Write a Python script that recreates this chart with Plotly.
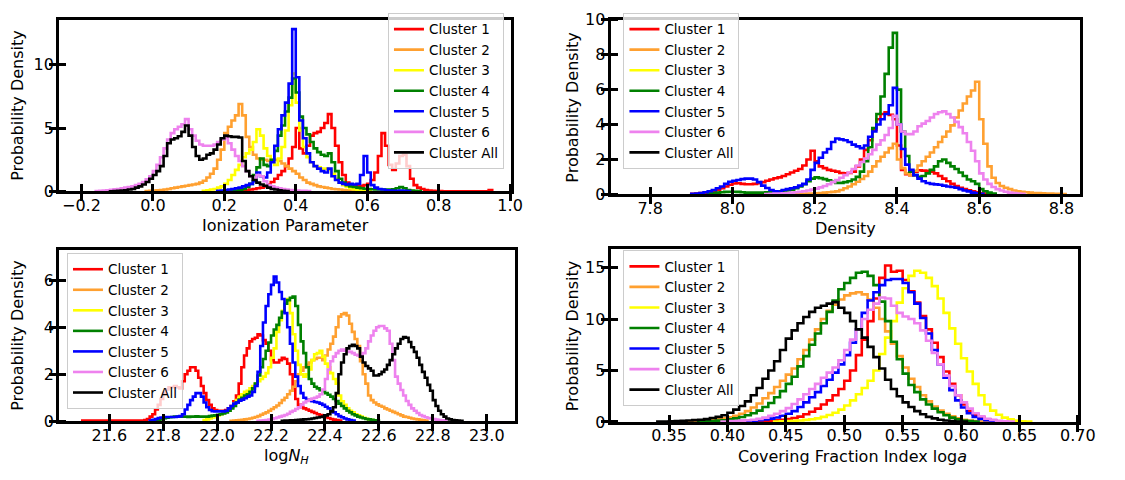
import plotly.graph_objects as go

# ---------------- Panel 1: Ionization Parameter (bin width 0.01) ----------------
ion_w = 0.01
ion_c1_start = 0.20
ion_c1 = [0.03, 0.04, 0.05, 0.06, 0.08, 0.1, 0.12, 0.15, 0.2, 0.25, 0.3, 0.4, 0.55, 0.75, 1.0, 1.3, 1.6, 2.0, 2.6, 3.5,
          5.0, 3.4, 3.0, 3.6, 4.4, 4.6, 4.7, 5.0, 5.4, 6.1, 5.0, 3.6, 2.3, 1.3, 0.7, 0.5, 0.45, 0.4, 0.45, 0.5,
          0.6, 0.9, 1.5, 2.8, 4.6, 3.6, 2.1, 1.7, 2.2, 2.8, 2.9, 2.0, 1.0, 0.5, 0.3, 0.2, 0.12, 0.08, 0.05, 0.04,
          0.03, 0.02, 0.02, 0.02, 0.02, 0.02, 0.02, 0.02, 0.02, 0.02, 0.02, 0.02, 0.02, 0.02, 0.12]
ion_c2_start = -0.02
ion_c2 = [0.03, 0.05, 0.08, 0.1, 0.12, 0.15, 0.2, 0.25, 0.3, 0.35, 0.4, 0.45, 0.5, 0.55, 0.6, 0.7, 0.85, 1.1, 1.4, 1.8,
          2.5, 3.3, 4.6, 5.1, 5.6, 6.0, 6.9, 6.0, 4.3, 3.5, 2.9, 2.6, 2.5, 2.5, 2.4, 2.5, 2.5, 2.4, 2.2, 2.0,
          1.8, 1.6, 1.4, 1.1, 0.9, 0.7, 0.6, 0.5, 0.4, 0.35, 0.3, 0.25, 0.2, 0.18, 0.15, 0.12, 0.1, 0.08, 0.06, 0.05,
          0.03]
ion_c3_start = 0.14
ion_c3 = [0.05, 0.1, 0.15, 0.2, 0.3, 0.4, 0.6, 0.9, 1.3, 1.7, 2.1, 2.7, 3.0, 3.3, 3.9, 4.9, 4.4, 3.4, 2.8, 2.4,
          2.1, 2.6, 3.5, 4.8, 6.8, 9.3, 7.0, 4.8, 3.5, 2.7, 2.3, 2.0, 1.9, 1.8, 1.8, 1.7, 1.4, 1.0, 0.7, 0.5,
          0.35, 0.25, 0.18, 0.12, 0.08, 0.05, 0.03]
ion_c4_start = 0.22
ion_c4 = [0.05, 0.08, 0.12, 0.2, 0.35, 0.6, 1.3, 1.9, 2.6, 2.1, 2.0, 2.5, 3.2, 4.4, 5.2, 6.3, 7.4, 8.9, 7.8, 5.9,
          5.0, 4.5, 3.9, 3.4, 3.1, 2.9, 2.8, 3.0, 2.3, 1.6, 1.0, 0.7, 0.5, 0.4, 0.35, 0.3, 0.25, 0.22, 0.2, 0.18,
          0.16, 0.15, 0.15, 0.15, 0.15, 0.18, 0.25, 0.35, 0.25, 0.12, 0.08, 0.05, 0.03]
ion_c5_start = 0.18
ion_c5 = [0.05, 0.08, 0.1, 0.15, 0.2, 0.25, 0.3, 0.4, 0.5, 0.6, 0.8, 1.5, 1.2, 1.1, 1.5, 2.3, 3.6, 4.9, 6.0, 7.0,
          8.5, 12.8, 9.0, 5.6, 4.2, 3.0, 2.3, 2.0, 1.8, 1.6, 1.5, 1.8, 1.2, 0.9, 0.7, 0.6, 0.55, 0.6, 0.55, 0.6,
          1.3, 2.8, 1.5, 0.5, 0.3, 0.2, 0.15, 0.1, 0.08, 0.06, 0.05, 0.08, 0.05, 0.03]
ion_c6_start = -0.16
ion_c6 = [0.03, 0.05, 0.07, 0.1, 0.13, 0.17, 0.2, 0.25, 0.3, 0.35, 0.4, 0.5, 0.6, 0.75, 0.95, 1.2, 1.6, 2.1, 2.7, 3.4,
          4.1, 4.6, 4.9, 5.1, 5.3, 5.7, 4.9, 4.4, 4.0, 3.7, 3.6, 3.6, 3.6, 3.7, 3.9, 4.1, 4.2, 3.8, 3.3, 2.8,
          2.4, 2.0, 1.6, 1.2, 1.0, 1.3, 1.2, 0.8, 0.5, 0.4, 0.3, 0.25, 0.2, 0.15, 0.12, 0.1, 0.08, 0.06, 0.05, 0.03]
ion_all_start = -0.12
ion_all = [0.02, 0.03, 0.05, 0.08, 0.1, 0.15, 0.2, 0.3, 0.4, 0.55, 0.75, 1.0, 1.3, 1.6, 2.0, 2.8, 3.8, 4.1, 4.2, 4.35,
           4.7, 5.2, 4.4, 3.5, 2.8, 2.5, 2.6, 2.9, 3.0, 3.3, 3.7, 4.2, 4.4, 4.35, 4.3, 4.3, 4.25, 2.4, 1.6, 1.2,
           0.9, 0.7, 0.55, 0.45, 0.3, 0.2, 0.15, 0.1, 0.05, 0.03]

# ---------------- Panel 2: Density (bin width 0.01) ----------------
den_w = 0.01
den_c1_start = 7.90
den_c1 = [0.03, 0.05, 0.07, 0.09, 0.12, 0.18, 0.25, 0.35, 0.45, 0.55, 0.62, 0.64, 0.6, 0.58, 0.58, 0.6, 0.64, 0.7, 0.78, 0.85,
          0.92, 0.97, 1.05, 1.15, 1.25, 1.35, 1.45, 1.65, 2.0, 2.5, 1.9, 1.6, 1.5, 1.4, 1.35, 1.3, 1.22, 1.2, 1.22, 1.3,
          1.6, 2.0, 2.55, 3.1, 3.7, 4.3, 4.6, 4.7, 4.55, 4.3, 2.8, 1.4, 1.15, 1.1, 1.3, 1.38, 1.36, 1.35, 1.3, 1.2,
          1.05, 0.9, 0.75, 0.6, 0.48, 0.38, 0.3, 0.23, 0.18, 0.12, 0.08, 0.04]
den_c2_start = 8.15
den_c2 = [0.02, 0.03, 0.03, 0.04, 0.05, 0.06, 0.08, 0.1, 0.12, 0.14, 0.17, 0.25, 0.35, 0.45, 0.58, 0.72, 0.88, 1.05, 1.3, 1.6,
          1.9, 2.15, 2.4, 2.65, 2.9, 2.0, 1.5, 1.2, 1.1, 1.35, 1.65, 1.9, 2.15, 2.4, 2.7, 3.0, 3.3, 3.6, 3.95, 4.4,
          4.8, 5.2, 5.6, 5.95, 6.45, 4.3, 2.9, 1.6, 0.95, 0.65, 0.48, 0.38, 0.3, 0.22, 0.17, 0.14, 0.12, 0.1, 0.08, 0.07,
          0.06, 0.05, 0.04, 0.03, 0.03, 0.02]
den_c4_start = 7.94
den_c4 = [0.05, 0.07, 0.1, 0.12, 0.14, 0.15, 0.15, 0.14, 0.12, 0.1, 0.1, 0.1, 0.1, 0.1, 0.12, 0.13, 0.15, 0.17, 0.2, 0.23,
          0.27, 0.35, 0.45, 0.58, 0.75, 0.9, 0.97, 0.93, 0.87, 0.8, 0.72, 0.66, 0.66, 0.7, 0.75, 0.85, 1.0, 1.3, 1.9, 2.7,
          3.8, 4.6, 5.6, 6.9, 8.4, 9.25, 6.0, 3.6, 2.2, 1.3, 1.1, 1.0, 1.05, 1.2, 1.4, 1.6, 1.9, 2.0, 1.8, 1.6,
          1.45, 1.25, 1.05, 0.85, 0.75, 0.6, 0.3, 0.18, 0.1, 0.05]
den_c5_start = 7.90
den_c5 = [0.03, 0.05, 0.08, 0.12, 0.18, 0.25, 0.35, 0.45, 0.6, 0.72, 0.78, 0.82, 0.87, 0.9, 0.9, 0.85, 0.7, 0.5, 0.36, 0.25,
          0.17, 0.15, 0.25, 0.3, 0.35, 0.4, 0.5, 0.6, 0.85, 1.4, 1.8, 2.1, 2.4, 2.6, 3.0, 3.2, 3.15, 3.1, 3.0, 2.85,
          2.75, 2.65, 2.8, 3.3, 3.6, 4.0, 4.3, 4.6, 5.1, 6.1, 4.0, 2.6, 1.7, 1.4, 1.1, 0.9, 0.75, 0.65, 0.6, 0.57,
          0.55, 0.5, 0.45, 0.42, 0.38, 0.3, 0.22, 0.17, 0.1, 0.06, 0.03]
den_c6_start = 8.08
den_c6 = [0.02, 0.03, 0.04, 0.05, 0.06, 0.08, 0.1, 0.12, 0.15, 0.18, 0.22, 0.27, 0.33, 0.4, 0.48, 0.58, 0.7, 0.82, 0.95, 1.1,
          1.25, 1.45, 1.65, 1.85, 2.05, 2.3, 2.55, 2.85, 3.1, 3.4, 3.8, 4.5, 4.0, 3.6, 3.45, 3.45, 3.6, 3.9, 4.05, 4.2,
          4.4, 4.6, 4.7, 4.75, 4.6, 4.4, 4.15, 3.85, 3.5, 3.0, 2.5, 1.9, 1.2, 0.85, 0.6, 0.42, 0.3, 0.22, 0.15, 0.1,
          0.07, 0.05, 0.03]

# ---------------- Panel 3: log N_H (bin width 0.01) ----------------
nh_w = 0.01
nh_c1_start = 21.50
nh_c1 = [0.03, 0.03, 0.03, 0.03, 0.03, 0.03, 0.03, 0.03, 0.03, 0.03, 0.03, 0.03, 0.03, 0.03, 0.03, 0.03,
         0.03, 0.03, 0.03, 0.03, 0.03, 0.03, 0.03,
         0.05, 0.1, 0.2, 0.3, 0.5, 0.7, 0.95, 1.2, 1.35, 1.45, 1.45, 1.5, 1.45, 1.4, 1.7, 2.0, 2.15, 2.3, 2.3, 2.15, 1.85,
         1.5, 1.2, 0.9, 0.7, 0.55, 0.48, 0.45, 0.45, 0.45, 0.48, 0.55, 0.65, 0.85, 1.1, 1.6, 2.3, 2.8, 3.1, 3.4, 3.5,
         3.55, 3.7, 3.65, 3.45, 3.3, 3.0, 2.6, 2.5, 2.5, 2.6, 2.7, 2.65, 2.45, 2.0, 1.4, 0.95, 0.7, 0.6, 0.55, 0.5,
         0.45, 0.4, 0.35, 0.3, 0.27, 0.23, 0.18, 0.14, 0.1, 0.07, 0.05, 0.03]
nh_c2_start = 22.05
nh_c2 = [0.02, 0.03, 0.04, 0.05, 0.06, 0.08, 0.1, 0.12, 0.15, 0.18, 0.22, 0.28, 0.33, 0.38, 0.45, 0.52, 0.6, 0.67, 0.78, 0.9,
         1.0, 1.15, 1.3, 1.47, 1.7, 2.0, 2.15, 2.3, 2.4, 2.5, 2.6, 2.65, 2.7, 2.7, 2.6, 2.8, 3.05, 3.3, 3.6, 4.0,
         4.45, 4.55, 4.6, 4.5, 4.15, 3.8, 3.5, 3.2, 2.55, 2.0, 1.6, 1.1, 0.9, 0.8, 0.72, 0.66, 0.62, 0.55, 0.5, 0.45,
         0.4, 0.35, 0.3, 0.25, 0.2, 0.18, 0.15, 0.12, 0.1, 0.08, 0.06, 0.04, 0.03]
nh_c3_start = 21.95
nh_c3 = [0.05, 0.08, 0.12, 0.16, 0.2, 0.25, 0.3, 0.35, 0.42, 0.5, 0.6, 0.75, 0.9, 1.05, 1.15, 1.25, 1.3, 1.4, 1.5, 1.6,
         1.7, 1.8, 1.9, 2.05, 2.3, 2.7, 3.1, 3.8, 4.3, 4.7, 5.15, 5.2, 4.6, 3.7, 3.0, 2.4, 2.0, 1.9, 2.0, 2.2,
         2.6, 2.85, 2.9, 3.0, 2.75, 2.45, 2.3, 2.05, 1.8, 1.6, 1.1, 0.85, 0.7, 0.55, 0.45, 0.38, 0.3, 0.25, 0.2, 0.15,
         0.11, 0.08, 0.05, 0.03]
nh_c4_start = 21.76
nh_c4 = [0.03, 0.05, 0.07, 0.1, 0.13, 0.15, 0.17, 0.18, 0.2, 0.2, 0.21, 0.2, 0.2, 0.19, 0.2, 0.2, 0.21, 0.2, 0.2, 0.2,
         0.2, 0.22, 0.24, 0.26, 0.28, 0.3, 0.33, 0.38, 0.45, 0.55, 0.65, 0.8, 0.92, 1.0, 1.1, 1.15, 1.25, 1.4, 1.6, 1.95,
         2.3, 2.65, 3.0, 3.35, 3.65, 3.9, 4.1, 4.4, 4.65, 5.0, 5.15, 5.25, 5.3, 4.9, 4.1, 3.4, 2.9, 2.3, 1.8, 1.6,
         1.47, 1.4, 1.32, 1.27, 1.2, 1.13, 1.05, 0.95, 0.86, 0.75, 0.65, 0.55, 0.45, 0.38, 0.3, 0.25, 0.2, 0.16, 0.13, 0.1,
         0.08, 0.06, 0.04, 0.03]
nh_c5_start = 21.75
nh_c5 = [0.03, 0.06, 0.1, 0.14, 0.16, 0.18, 0.18, 0.18, 0.18, 0.18, 0.2, 0.22, 0.3, 0.5, 0.7, 0.9, 1.05, 1.2, 1.2, 1.05,
         0.8, 0.6, 0.48, 0.43, 0.42, 0.42, 0.42, 0.42, 0.45, 0.55, 0.65, 0.75, 0.8, 0.88, 0.92, 0.98, 1.05, 1.1, 1.25, 1.5,
         2.1, 3.2, 4.2, 4.9, 5.4, 5.8, 6.15, 5.9, 5.5, 5.2, 4.6, 4.0, 3.3, 2.5, 1.9, 1.5, 1.2, 1.0, 0.92, 0.88,
         0.85, 0.82, 0.8, 0.75, 0.7, 0.62, 0.55, 0.45, 0.38, 0.3, 0.22, 0.17, 0.12, 0.08, 0.05, 0.03]
nh_c6_start = 22.15
nh_c6 = [0.02, 0.03, 0.04, 0.05, 0.07, 0.1, 0.13, 0.16, 0.2, 0.23, 0.27, 0.32, 0.4, 0.45, 0.52, 0.6, 0.7, 0.8, 0.86, 0.92,
         0.97, 1.0, 1.05, 1.15, 1.35, 1.8, 2.2, 2.55, 2.75, 2.9, 3.0, 3.05, 3.0, 2.97, 2.95, 2.9, 2.83, 2.8, 2.76, 2.9,
         3.1, 3.4, 3.65, 3.85, 4.0, 4.05, 4.05, 3.95, 3.85, 3.3, 2.6, 1.9, 1.6, 1.33, 1.1, 0.86, 0.7, 0.55, 0.45, 0.35,
         0.27, 0.22, 0.17, 0.14, 0.12, 0.1, 0.07, 0.05, 0.04, 0.03]
nh_all_start = 22.24
nh_all = [0.02, 0.03, 0.03, 0.04, 0.04, 0.05, 0.06, 0.07, 0.08, 0.09, 0.1, 0.12, 0.14, 0.16, 0.18, 0.2, 0.25, 0.3, 0.42, 0.6,
          1.2, 2.0, 2.5, 2.85, 3.1, 3.2, 3.25, 3.2, 3.1, 2.75, 2.5, 2.35, 2.25, 2.15, 1.95, 1.95, 2.0, 2.1, 2.2, 2.4,
          2.6, 2.85, 3.1, 3.3, 3.5, 3.58, 3.55, 3.37, 3.15, 2.95, 2.7, 2.4, 2.1, 1.85, 1.55, 1.3, 0.9, 0.65, 0.45, 0.3,
          0.2, 0.12, 0.08, 0.05, 0.04, 0.03, 0.02]

# ---------------- Panel 4: Covering Fraction Index (bin width 0.005) ----------------
cf_w = 0.005
cf_c1_start = 0.415
cf_c1 = [0.04, 0.06, 0.08, 0.1, 0.13, 0.17, 0.22, 0.28, 0.38, 0.52, 0.75, 1.0, 1.3, 1.7, 2.1, 2.6, 3.2, 4.0, 5.0, 6.5,
         8.0, 9.8, 12.0, 14.0, 15.2, 14.6, 14.7, 13.8, 12.7, 11.6, 10.3, 9.0, 7.7, 6.3, 4.9, 3.7, 2.6, 1.7, 1.1, 0.7,
         0.42, 0.25, 0.14, 0.07, 0.04]
cf_c2_start = 0.360
cf_c2 = [0.05, 0.07, 0.09, 0.11, 0.14, 0.18, 0.25, 0.35, 0.45, 0.6, 0.8, 1.05, 1.4, 1.8, 2.3, 2.8, 3.4, 4.0, 4.6, 5.2,
         6.1, 7.0, 8.0, 9.0, 10.0, 10.8, 11.4, 11.9, 12.3, 12.5, 12.6, 12.4, 11.9, 11.1, 10.0, 8.8, 7.6, 6.4, 5.3, 4.2,
         3.4, 2.6, 2.0, 1.5, 1.1, 0.8, 0.55, 0.35, 0.22, 0.13, 0.08, 0.05, 0.03]
cf_c3_start = 0.440
cf_c3 = [0.04, 0.06, 0.08, 0.11, 0.15, 0.2, 0.27, 0.35, 0.5, 0.68, 0.9, 1.2, 1.6, 2.1, 2.7, 3.3, 4.0, 5.0, 6.6, 8.2,
         9.8, 11.6, 13.0, 14.2, 14.7, 14.5, 14.0, 13.2, 12.0, 10.6, 9.1, 7.6, 6.2, 4.9, 3.7, 2.6, 1.7, 1.1, 0.7, 0.42,
         0.25, 0.13, 0.06, 0.03]
cf_c4_start = 0.375
cf_c4 = [0.05, 0.08, 0.1, 0.13, 0.17, 0.25, 0.35, 0.48, 0.65, 0.85, 1.1, 1.45, 1.85, 2.4, 3.0, 3.7, 4.4, 5.4, 6.4, 7.5,
         8.6, 9.6, 10.7, 11.8, 12.9, 13.5, 14.0, 14.5, 14.6, 14.2, 13.3, 11.7, 9.8, 7.8, 6.1, 4.7, 3.6, 2.9, 2.2, 1.7,
         1.3, 0.95, 0.65, 0.42, 0.25, 0.14, 0.08, 0.04]
cf_c5_start = 0.405
cf_c5 = [0.05, 0.08, 0.1, 0.13, 0.18, 0.25, 0.33, 0.43, 0.6, 0.8, 1.05, 1.45, 1.9, 2.4, 2.9, 3.5, 4.1, 4.8, 5.6, 6.5,
         7.7, 9.0, 10.6, 11.8, 12.6, 13.3, 13.8, 13.9, 13.9, 13.5, 12.6, 11.5, 10.1, 8.6, 7.0, 5.6, 4.3, 3.1, 2.1, 1.4,
         0.85, 0.5, 0.3, 0.17, 0.1, 0.05]
cf_c6_start = 0.395
cf_c6 = [0.05, 0.08, 0.1, 0.13, 0.17, 0.22, 0.3, 0.42, 0.6, 0.8, 1.05, 1.35, 1.75, 2.2, 2.7, 3.2, 3.7, 4.3, 4.8, 5.3,
         6.0, 7.0, 8.0, 9.0, 10.0, 10.9, 11.5, 12.1, 12.0, 11.3, 10.6, 10.25, 10.0, 9.6, 8.9, 7.9, 6.7, 5.6, 4.5, 3.5,
         2.6, 1.9, 1.3, 0.85, 0.55, 0.32, 0.2, 0.12, 0.07, 0.04]
cf_all_start = 0.340
cf_all = [0.03, 0.05, 0.07, 0.09, 0.11, 0.14, 0.18, 0.22, 0.28, 0.38, 0.5, 0.65, 0.9, 1.2, 1.55, 2.0, 2.6, 3.3, 4.2, 5.0,
          5.9, 7.0, 8.1, 8.9, 9.6, 10.2, 10.7, 11.1, 11.3, 11.5, 11.65, 11.1, 10.6, 9.8, 9.0, 8.2, 7.3, 6.3, 5.2, 4.1,
          3.2, 2.5, 1.9, 1.45, 1.05, 0.75, 0.5, 0.35, 0.22, 0.14, 0.09, 0.05, 0.03]

# ---------------- Labels, ticks, colours ----------------
names = ["Cluster 1", "Cluster 2", "Cluster 3", "Cluster 4", "Cluster 5", "Cluster 6", "Cluster All"]
colors = ["#ff0000", "#ffa030", "#ffff00", "#008000", "#0000ff", "#ee82ee", "#000000"]
x_titles = ["Ionization Parameter", "Density", "log<i>N</i><sub><i>H</i></sub>", "Covering Fraction Index log<i>a</i>"]
y_title = "Probability Density"

ion_xticks = [-0.2, 0.0, 0.2, 0.4, 0.6, 0.8, 1.0]
ion_yticks = [0, 5, 10]
den_xticks = [7.8, 8.0, 8.2, 8.4, 8.6, 8.8]
den_yticks = [0, 2, 4, 6, 8, 10]
nh_xticks = [21.6, 21.8, 22.0, 22.2, 22.4, 22.6, 22.8, 23.0]
nh_yticks = [0, 2, 4, 6]
cf_xticks = [0.35, 0.40, 0.45, 0.50, 0.55, 0.60, 0.65, 0.70]
cf_yticks = [0, 5, 10, 15]

panels = [
    dict(w=ion_w, series=[(ion_c1_start, ion_c1), (ion_c2_start, ion_c2), (ion_c3_start, ion_c3), (ion_c4_start, ion_c4),
                          (ion_c5_start, ion_c5), (ion_c6_start, ion_c6), (ion_all_start, ion_all)]),
    dict(w=den_w, series=[(den_c1_start, den_c1), (den_c2_start, den_c2), None, (den_c4_start, den_c4),
                          (den_c5_start, den_c5), (den_c6_start, den_c6), None]),
    dict(w=nh_w, series=[(nh_c1_start, nh_c1), (nh_c2_start, nh_c2), (nh_c3_start, nh_c3), (nh_c4_start, nh_c4),
                         (nh_c5_start, nh_c5), (nh_c6_start, nh_c6), (nh_all_start, nh_all)]),
    dict(w=cf_w, series=[(cf_c1_start, cf_c1), (cf_c2_start, cf_c2), (cf_c3_start, cf_c3), (cf_c4_start, cf_c4),
                         (cf_c5_start, cf_c5), (cf_c6_start, cf_c6), (cf_all_start, cf_all)]),
]


def step_xy(start, w, vals):
    n = len(vals)
    edges = [round(start + i * w, 6) for i in range(n + 1)]
    xs = [edges[0]] + edges[:n] + [edges[n]]
    ys = [0] + list(vals) + [0]
    return xs, ys


fig = go.Figure()
axis_ids = ["", "2", "3", "4"]
legend_ids = ["legend", "legend2", "legend3", "legend4"]
for p, panel in enumerate(panels):
    for k, s in enumerate(panel["series"]):
        if s is None:
            xs, ys = [None], [None]
        else:
            xs, ys = step_xy(s[0], panel["w"], s[1])
        fig.add_trace(go.Scatter(
            x=xs, y=ys, mode="lines", line=dict(color=colors[k], width=2.6, shape="hv"),
            name=names[k], xaxis="x" + axis_ids[p], yaxis="y" + axis_ids[p],
            legend=legend_ids[p], showlegend=True, hoverinfo="skip"))

FONT = "DejaVu Sans"
EPS = 1e-9
TICKFONT = dict(family=FONT, size=16, color="black")
TITLEFONT = dict(family=FONT, size=16, color="black")


def xaxis(domain, rng, ticks, fmt, anchor):
    return dict(domain=domain, range=rng, anchor=anchor, showline=True, linecolor="black", linewidth=3,
                mirror=True, ticks="outside", ticklen=7, tickwidth=2.5, tickcolor="black",
                tickmode="array", tickvals=ticks, tickformat=fmt, showgrid=False, zeroline=False,
                tickfont=TICKFONT, ticklabelstandoff=-10,
                minor=dict(ticks="inside", ticklen=7, tickwidth=2.5, tickcolor="black", tickmode="array",
                           tickvals=[t + EPS for t in ticks], showgrid=False))


def yaxis(domain, rng, ticks, anchor):
    return dict(domain=domain, range=rng, anchor=anchor, showline=True, linecolor="black", linewidth=3,
                mirror=True, ticks="outside", ticklen=7, tickwidth=2.5, tickcolor="black",
                tickmode="array", tickvals=ticks, showgrid=False, zeroline=False,
                tickfont=TICKFONT, ticklabelstandoff=-8,
                minor=dict(ticks="inside", ticklen=7, tickwidth=2.5, tickcolor="black", tickmode="array",
                           tickvals=[t + EPS for t in ticks], showgrid=False))


W, H = 1125, 480
xl = [60 / W, 519 / W]
xr = [620 / W, 1097 / W]
xl2 = [60 / W, 522.7 / W]
xr2 = [620 / W, 1095 / W]
yt1 = [1 - 190 / H, 1 - 11 / H]
yt2 = [1 - 193 / H, 1 - 11 / H]
yb1 = [1 - 429.3 / H, 1 - 251 / H]
yb2 = [1 - 430 / H, 1 - 250 / H]

leg_common = dict(font=dict(family=FONT, size=13.5, color="black"), bgcolor="rgba(255,255,255,0.8)",
                  bordercolor="#cccccc", borderwidth=1, itemwidth=30, tracegroupgap=0)

# axis-title annotations (pixel positions converted to paper coordinates)
title_annos = []
xt_pos = [((60 + 519) / 2, 225), ((620 + 1097) / 2, 229), ((60 + 522.7) / 2, 466), ((620 + 1095) / 2 + 8, 466)]
for t, (px, py) in zip(x_titles, xt_pos):
    title_annos.append(dict(text=t, x=px / W, y=1 - py / H, xref="paper", yref="paper", showarrow=False,
                            xanchor="center", yanchor="middle", font=TITLEFONT))
yt_pos = [(17.5, 100.5), (581.5, 102), (17.5, 340), (581.5, 340)]
for px, py in yt_pos:
    title_annos.append(dict(text=y_title, x=px / W, y=1 - py / H, xref="paper", yref="paper", showarrow=False,
                            xanchor="center", yanchor="middle", textangle=-90, font=TITLEFONT))

fig.update_layout(
    width=W, height=H, margin=dict(l=0, r=0, t=0, b=0),
    paper_bgcolor="white", plot_bgcolor="white",
    font=dict(family=FONT, size=16, color="black"),
    xaxis=xaxis(xl, [-0.2625, 1.003], ion_xticks, ".1f", "y"),
    yaxis=yaxis(yt1, [0, 13.55], ion_yticks, "x"),
    xaxis2=xaxis(xr, [7.704, 8.846], den_xticks, ".1f", "y2"),
    yaxis2=yaxis(yt2, [0, 10.01], den_yticks, "x2"),
    xaxis3=xaxis(xl2, [21.414, 23.104], nh_xticks, ".1f", "y3"),
    yaxis3=yaxis(yb1, [0, 7.28], nh_yticks, "x3"),
    xaxis4=xaxis(xr2, [0.30, 0.7005], cf_xticks, ".2f", "y4"),
    yaxis4=yaxis(yb2, [0, 16.8], cf_yticks, "x4"),
    legend=dict(x=511.7 / W, xanchor="right", y=1 - 4 / H, yanchor="top", **leg_common),
    legend2=dict(x=633 / W, xanchor="left", y=1 - 4 / H, yanchor="top", **leg_common),
    legend3=dict(x=68 / W, xanchor="left", y=1 - 254 / H, yanchor="top", **leg_common),
    legend4=dict(x=633 / W, xanchor="left", y=1 - 251 / H, yanchor="top", **leg_common),
    annotations=title_annos,
    showlegend=True,
)

fig.write_html("out.html")
